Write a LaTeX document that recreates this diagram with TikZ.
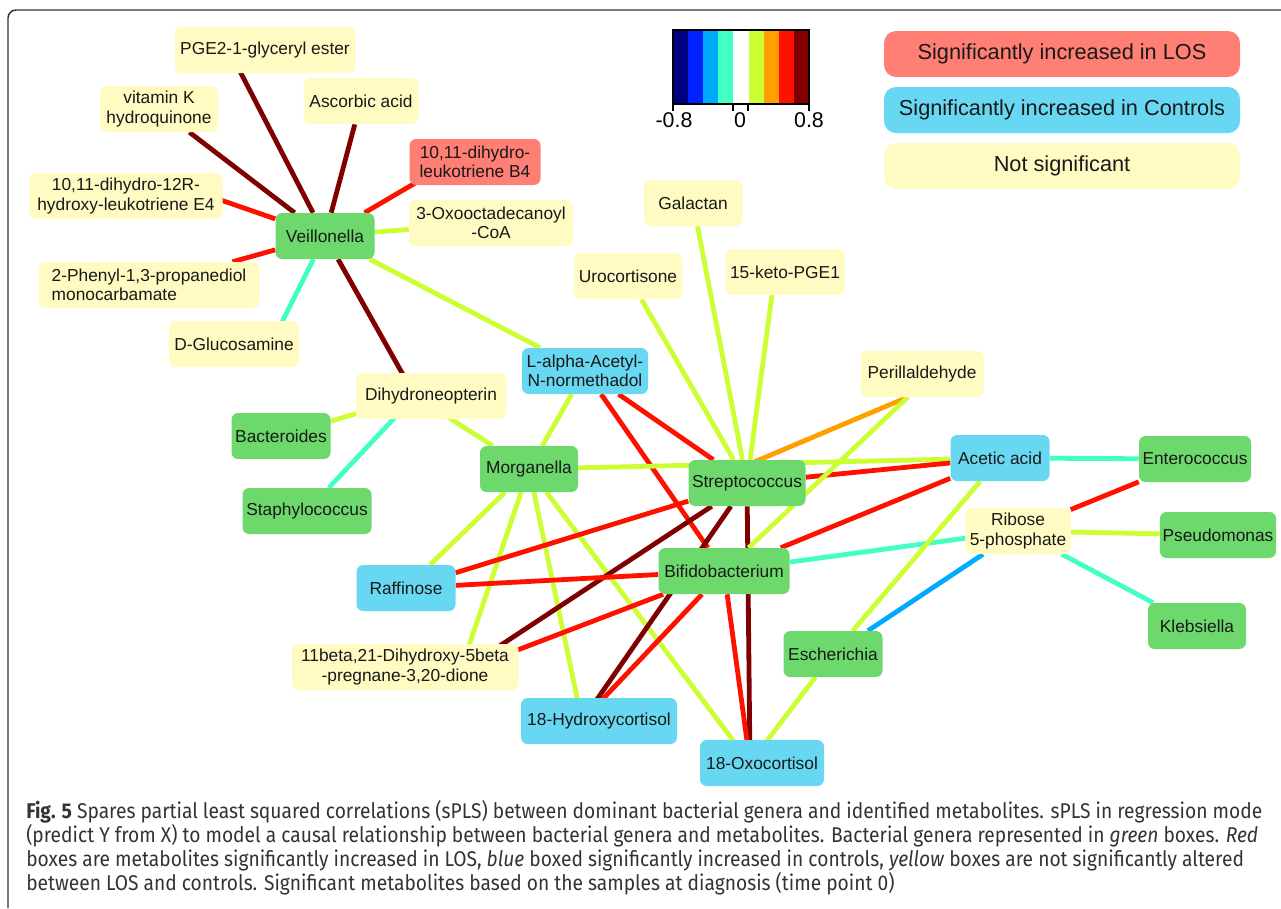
\documentclass[tikz,border=0pt]{standalone}
\usepackage{fontspec}
\setmainfont{Liberation Sans}
\newfontfamily\capfont[FakeStretch=0.9]{Fira Sans}
\usetikzlibrary{calc,backgrounds}
\definecolor{genusfill}{HTML}{6DD96D}
\definecolor{losfill}{HTML}{FF7F75}
\definecolor{ctrlfill}{HTML}{68D8F2}
\definecolor{nsfill}{HTML}{FFFBC2}
\definecolor{cb1}{HTML}{000080}\definecolor{cb2}{HTML}{0022FF}\definecolor{cb3}{HTML}{00AAFF}
\definecolor{cb4}{HTML}{44FFC4}\definecolor{cb5}{HTML}{FFFFFF}\definecolor{cb6}{HTML}{CCFF33}
\definecolor{cb7}{HTML}{FFA000}\definecolor{cb8}{HTML}{FF1100}\definecolor{cb9}{HTML}{800000}
\begin{document}
\begin{tikzpicture}[x=0.75pt,y=-0.75pt,
  box/.style={rounded corners=5pt,minimum height=34.5pt,inner sep=2pt,align=center,
    font=\fontsize{13}{14.3}\selectfont,text=black!90},
  wd/.style={minimum width=#1*0.75pt},
  genus/.style={box,fill=genusfill},
  los/.style={box,fill=losfill},
  ctrl/.style={box,fill=ctrlfill},
  nsig/.style={box,fill=nsfill},
  legbox/.style={rounded corners=9pt,minimum width=267pt,minimum height=34.5pt,
    font=\fontsize{16.3}{18}\selectfont,text=black!90},
  cblab/.style={anchor=north,inner sep=0pt,font=\fontsize{16}{17}\selectfont},
  capt/.style={anchor=base west,inner sep=0pt,text=black!80,
    font=\capfont\fontsize{16}{18}\selectfont},
  link/.style={line width=3.6pt},
  rdark/.style={link,cb9}, rmid/.style={link,cb8}, rlow/.style={link,cb7},
  rweak/.style={link,cb6}, nweak/.style={link,cb4}, nmid/.style={link,cb3}]
\useasboundingbox (0,0) rectangle (1281,908);
\draw[line width=1.1pt,black!80,rounded corners=6pt] (8,908)--(8,10)--(1281,10);

% colour key
\foreach \i in {1,...,9} \fill[cb\i] ({673+(\i-1)*15.11},30) rectangle ({673+\i*15.11},104);
\draw[line width=0.8pt] (673,30) rectangle (809,104);
\foreach \t in {673,733,748,809} \draw[line width=0.8pt] (\t,104)--(\t,111);
\node[cblab] (cbmin) at (674,112) {-0.8};
\node[cblab] (cbzero) at (740,112) {0};
\node[cblab] (cbmax) at (809,112) {0.8};

% legend
\node[legbox,fill=losfill] (leglos) at (1062,54) {Significantly increased in LOS};
\node[legbox,fill=ctrlfill] (legctrl) at (1062,110) {Significantly increased in Controls};
\node[legbox,fill=nsfill] (legns) at (1062,166) {Not significant};

% metabolites
\node[nsig,wd=181] (pge) at (265,50) {PGE2-1-glyceryl ester};
\node[nsig,wd=118] (vitk) at (159,109) {vitamin K\\hydroquinone};
\node[nsig,wd=115] (asc) at (361,101) {Ascorbic acid};
\node[los,wd=131] (ltb) at (475,162) {10,11-dihydro-\\leukotriene B4};
\node[nsig,wd=193] (lte) at (126,196) {10,11-dihydro-12R-\\hydroxy-leukotriene E4};
\node[nsig,wd=164] (oxo) at (491,223) {3-Oxooctadecanoyl\\-CoA};
\node[nsig,wd=221,align=left] (phen) at (149,285) {2-Phenyl-1,3-propanediol\\monocarbamate};
\node[nsig,wd=130] (glc) at (234,344) {D-Glucosamine};
\node[nsig,wd=99] (gal) at (693,203) {Galactan};
\node[nsig,wd=108] (uro) at (628,276) {Urocortisone};
\node[nsig,wd=119] (keto) at (785,272) {15-keto-PGE1};
\node[nsig,wd=123] (peri) at (922,374) {Perillaldehyde};
\node[nsig,wd=150] (dhn) at (431,396) {Dihydroneopterin};
\node[nsig,wd=227] (preg) at (405,667) {11beta,21-Dihydroxy-5beta\\-pregnane-3,20-dione};
\node[nsig,wd=105] (rib) at (1018,531) {Ribose\\5-phosphate};
\node[ctrl,wd=126] (lan) at (585,371) {L-alpha-Acetyl-\\N-normethadol};
\node[ctrl,wd=99] (raf) at (406,588) {Raffinose};
\node[ctrl,wd=156] (hyc) at (599,721) {18-Hydroxycortisol};
\node[ctrl,wd=124] (oxc) at (762,763) {18-Oxocortisol};
\node[ctrl,wd=99] (ace) at (1000,458) {Acetic acid};

% genera
\node[genus,wd=99] (vei) at (325,236) {Veillonella};
\node[genus,wd=99] (bac) at (281,436) {Bacteroides};
\node[genus,wd=129] (sta) at (307,511) {Staphylococcus};
\node[genus,wd=98] (mor) at (529,469) {Morganella};
\node[genus,wd=117] (str) at (747,483) {Streptococcus};
\node[genus,wd=131] (bif) at (724,571) {Bifidobacterium};
\node[genus,wd=99] (esc) at (833,654) {Escherichia};
\node[genus,wd=112] (ent) at (1195,459) {Enterococcus};
\node[genus,wd=112] (pse) at (1218,535) {Pseudomonas};
\node[genus,wd=98] (kle) at (1197,626) {Klebsiella};

% edge ends off the box centres
\coordinate (pgeH) at ($(pge)+(-36,0)$);
\coordinate (ltbH) at ($(ltb)+(-24,0)$);
\coordinate (lteH) at ($(lte)+(60,-8)$);
\coordinate (glcH) at ($(glc)+(37,0)$);
\coordinate (dhnH) at ($(dhn)+(-16,0)$);
\coordinate (ketoH) at ($(keto)+(-10,0)$);
\coordinate (periH) at ($(peri)+(-14,23)$);
\coordinate (strH) at ($(str)+(0,-18)$);
\coordinate (pregH) at ($(preg)+(55,5)$);
\coordinate (hycH) at ($(hyc)+(-17,0)$);
\coordinate (oxcH) at ($(oxc)+(-12,0)$);

\begin{scope}[on background layer]
\draw[rdark] (vei)--(pgeH); \draw[rdark] (vei)--(vitk); \draw[rdark] (vei)--(asc);
\draw[rmid] (vei)--(ltbH); \draw[rmid] (vei)--(lteH); \draw[rweak] (vei)--(oxo);
\draw[rmid] (vei)--(phen); \draw[nweak] (vei)--(glcH); \draw[rdark] (vei)--(dhnH);
\draw[rweak] (vei)--(lan);
\draw[rweak] (dhnH)--(bac); \draw[nweak] (dhnH)--(sta); \draw[rweak] (dhnH)--(mor);
\draw[rweak] (lan)--(mor); \draw[rmid] (lan)--(str); \draw[rmid] (lan)--(bif);
\draw[rweak] (mor)--(ace); \draw[rweak] (mor)--(raf); \draw[rweak] (mor)--(pregH);
\draw[rweak] (mor)--(hycH); \draw[rweak] (mor)--(oxcH);
\draw[rweak] (str)--(uro); \draw[rweak] (str)--(gal); \draw[rweak] (str)--(ketoH);
\draw[rlow] (strH)--(periH); \draw[rmid] (str)--(ace); \draw[rmid] (str)--(raf);
\draw[rdark] (str)--(pregH); \draw[rdark] (str)--(hycH); \draw[rdark] (str)--(oxcH);
\draw[rweak] (periH)--(bif); \draw[rmid] (bif)--(ace); \draw[nweak] (bif)--(rib);
\draw[rmid] (bif)--(raf); \draw[rmid] (bif)--(pregH); \draw[rmid] (bif)--(hycH);
\draw[rmid] (bif)--(oxcH);
\draw[nweak] (ace)--(ent); \draw[rweak] (ace)--(esc); \draw[rweak] (esc)--(oxcH);
\draw[rmid] (rib)--(ent); \draw[rweak] (rib)--(pse); \draw[nweak] (rib)--(kle);
\draw[nmid] (rib)--(esc);
\end{scope}

% caption
\node[capt] (cap1) at (26,818) {\textbf{Fig. 5} Spares partial least squared correlations (sPLS) between dominant bacterial genera and identified metabolites. sPLS in regression mode};
\node[capt] (cap2) at (26,842) {(predict Y from X) to model a causal relationship between bacterial genera and metabolites. Bacterial genera represented in \textit{green} boxes. \textit{Red}};
\node[capt] (cap3) at (26,866) {boxes are metabolites significantly increased in LOS, \textit{blue} boxed significantly increased in controls, \textit{yellow} boxes are not significantly altered};
\node[capt] (cap4) at (26,890) {between LOS and controls. Significant metabolites based on the samples at diagnosis (time point 0)};
\end{tikzpicture}
\end{document}
